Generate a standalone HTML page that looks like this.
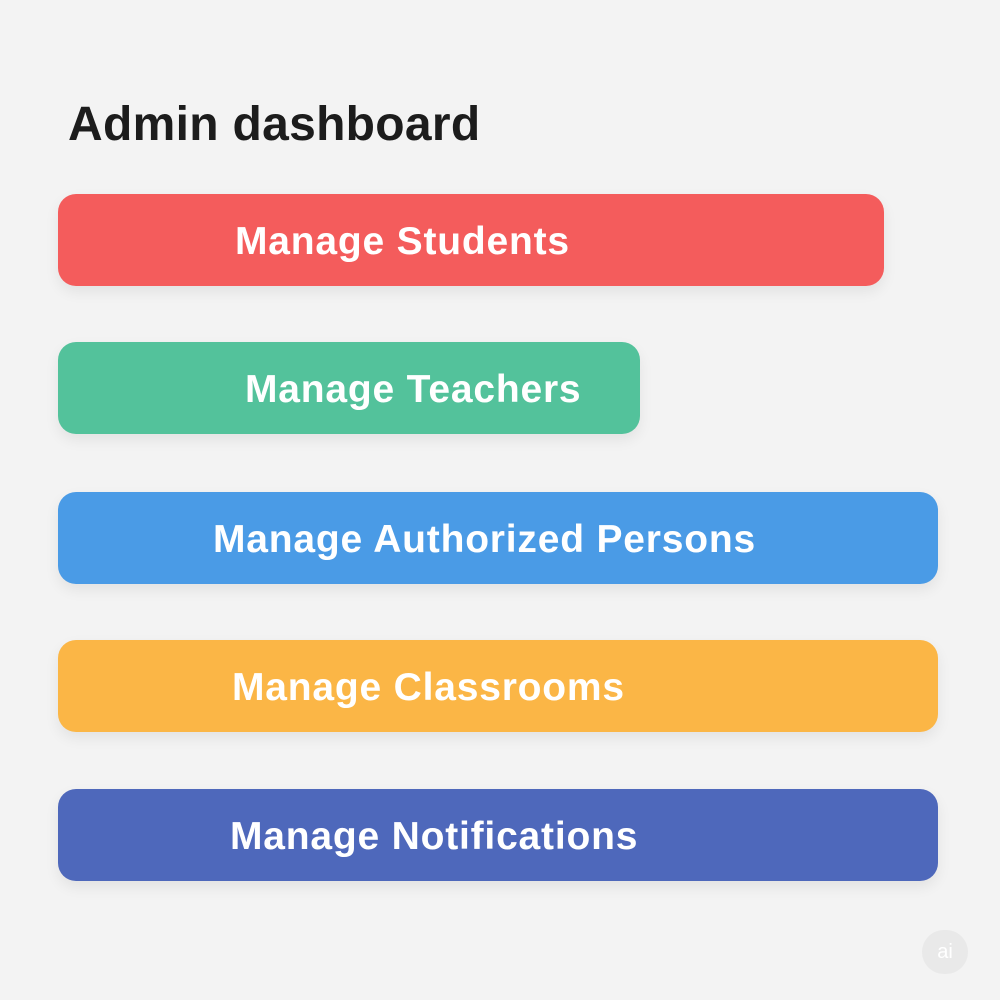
<!DOCTYPE html>
<html><head><meta charset="utf-8"><style>
html,body{margin:0;padding:0}
body{width:1000px;height:1000px;background:#f3f3f3;position:relative;overflow:hidden;font-family:"Liberation Sans",sans-serif}
.t{position:absolute;left:68px;top:95px;font-size:48px;font-weight:bold;color:#1c1c1c;line-height:60px;letter-spacing:0.3px}
.b{position:absolute;left:58px;height:92px;border-radius:18px;box-shadow:0 6px 14px rgba(0,0,0,0.07)}
.b span{position:absolute;top:2px;line-height:92px;color:#fff;font-size:39px;font-weight:bold;white-space:nowrap;letter-spacing:0.8px}
.logo{position:absolute;left:922px;top:930px;width:46px;height:44px;border-radius:22px;background:#e9e9e9;color:#fff;font-size:20px;line-height:44px;text-align:center}
</style></head><body>
<div class="t">Admin dashboard</div>
<div class="b" style="top:194px;width:826px;background:#f45c5c"><span style="left:177px">Manage Students</span></div>
<div class="b" style="top:342px;width:582px;background:#53c29b"><span style="left:187px">Manage Teachers</span></div>
<div class="b" style="top:492px;width:880px;background:#4a9be6"><span style="left:155px">Manage Authorized Persons</span></div>
<div class="b" style="top:640px;width:880px;background:#fbb646"><span style="left:174px">Manage Classrooms</span></div>
<div class="b" style="top:789px;width:880px;background:#4e68bb"><span style="left:172px">Manage Notifications</span></div>
<div class="logo">ai</div>
</body></html>
